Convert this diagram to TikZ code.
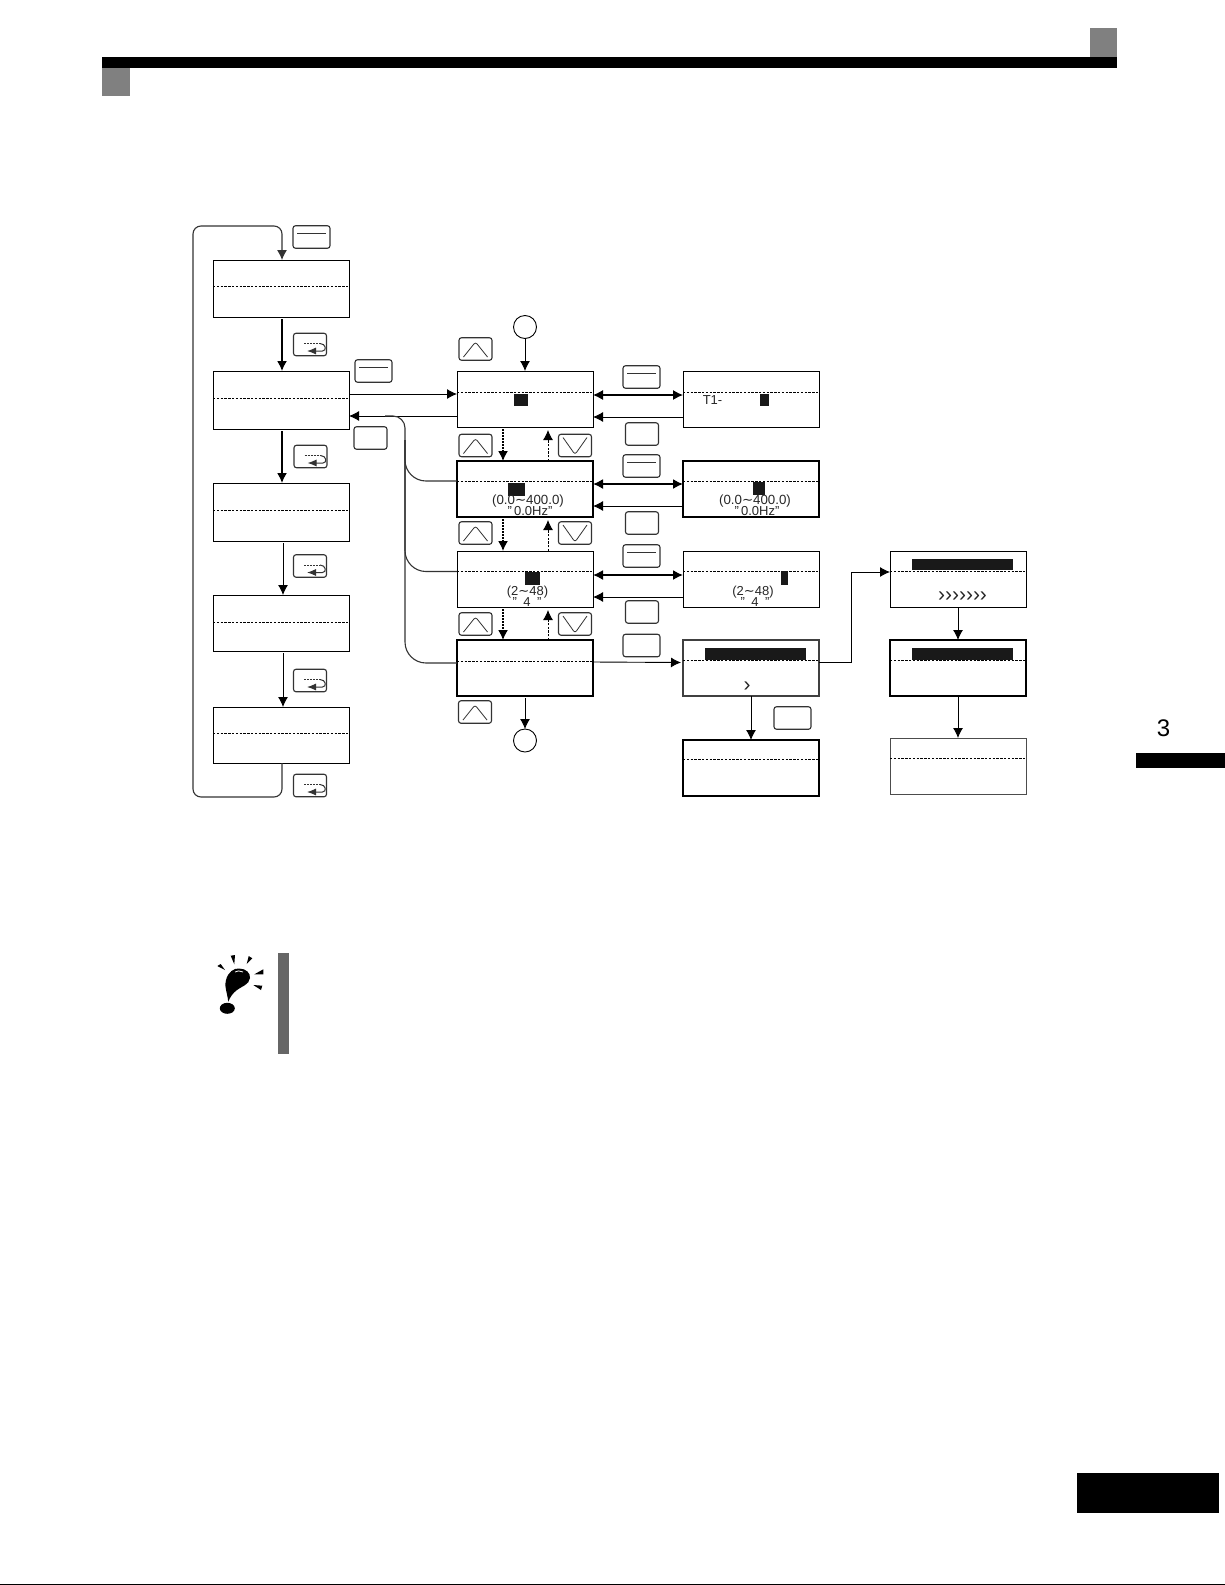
\documentclass[tikz,border=0pt]{standalone}
\usepackage{fontspec}
\setmainfont{Liberation Sans}
\newfontfamily\tildefont{DejaVu Sans}
\usetikzlibrary{arrows.meta,positioning,calc}
\tikzset{
  screen/.style={draw=black, line width=0.9pt, minimum width=136pt, minimum height=56pt, inner sep=0pt, outer sep=0pt},
  boldscreen/.style={screen, line width=1.3pt},
  dashrow/.style={line width=0.7pt, dash pattern=on 2.4pt off 1.4pt},
  key/.style={draw=black!80, line width=1.1pt, rounded corners=2.5pt, minimum width=33pt, minimum height=22.5pt, inner sep=0pt, outer sep=0pt},
  plainkey/.style={key},
  widekey/.style={key, minimum width=37pt},
  enterkey/.style={widekey, path picture={\draw[line width=0.8pt, y=1pt, shift={(path picture bounding box.center)}] (-14.5,4) -- (14.5,4);}},
  upkey/.style={key, path picture={\draw[line width=0.8pt, y=1pt, shift={(path picture bounding box.center)}] (-12,-8) -- (0,7) -- (12,-8);}},
  downkey/.style={key, path picture={\draw[line width=0.8pt, y=1pt, shift={(path picture bounding box.center)}] (-12,8) -- (0,-9) -- (12,8);}},
  returnkey/.style={key, path picture={
    \draw[line width=0.8pt, dash pattern=on 2pt off 1pt, y=1pt, shift={(path picture bounding box.center)}] (-6,1) -- (10,1);
    \draw[line width=1pt, -{Latex[length=9pt,width=7pt]}, y=1pt, shift={(path picture bounding box.center)}] (10,1) .. controls (16,1) and (17,-6.5) .. (10,-6.5) -- (-3,-6.5);}},
  arrow/.style={-{Latex[length=10pt,width=10pt]}, line width=0.9pt},
  boldarrow/.style={arrow, line width=1.5pt},
  twoway/.style={{Latex[length=10pt,width=10pt]}-{Latex[length=10pt,width=10pt]}, line width=1.2pt},
  dashedarrow/.style={arrow, dash pattern=on 2.2pt off 1.5pt},
  bolddashedarrow/.style={arrow, line width=1.5pt, dash pattern=on 1.8pt off 1.2pt},
  wire/.style={line width=0.9pt},
  buswire/.style={line width=1.1pt, black!80},
  lcdmark/.style={fill=black!90, inner sep=0pt, outer sep=0pt},
  dial/.style={draw=black, circle, line width=0.9pt, minimum size=23pt, inner sep=0pt, outer sep=0pt},
  lcd/.style={font=\fontsize{13}{13}\selectfont, inner sep=0pt, text=black!85}
}
\begin{document}
\begin{tikzpicture}[x=1pt, y=-1pt]
\useasboundingbox (0,0) rectangle (1225,1585);
% page furniture
\fill[black] (102,57) rectangle (1117,68);
\fill[black!50] (1089.5,28) rectangle (1117,57);
\fill[black!50] (102,68) rectangle (130,96);
\fill[black] (1136,753) rectangle (1225,768);
\fill[black] (1077,1473) rectangle (1219,1513);
\fill[black] (0,1584) rectangle (1225,1585);
\node[font=\fontsize{24}{24}\selectfont, inner sep=0pt] (chapter) at (1163.5,728) {3};
% left column
\node[screen, minimum height=57pt] (menuA) at (281,288.5) {};
\node[screen, minimum height=58pt, below=54pt of menuA] (menuB) {};
\node[screen, minimum height=58pt, below=54pt of menuB] (menuC) {};
\node[screen, below=54pt of menuC] (menuD) {};
\node[screen, below=56pt of menuD] (menuE) {};
% parameter column
\node[screen] (parA) at (525,399) {};
\node[screen, line width=1.1pt, below=34pt of parA] (parB) {};
\node[screen, below=34pt of parB] (parC) {};
\node[boldscreen, below=33pt of parC] (parD) {};
% edit column
\node[screen, right=90pt of parA] (editA) {};
\node[screen, line width=1.1pt, right=90pt of parB] (editB) {};
\node[screen, right=90pt of parC] (editC) {};
\node[screen, line width=1.1pt, draw=black!75, right=90pt of parD] (editD) {};
\node[screen, line width=1.1pt, below=44pt of editD] (editE) {};
% tuning column
\node[screen, right=71pt of editC] (tuneA) {};
\node[screen, line width=1.1pt, right=71pt of editD] (tuneB) {};
\node[screen, draw=black!70, line width=1pt, below=42pt of tuneB] (tuneC) {};
\foreach \n/\o in {menuA/2.5,menuB/2,menuC/2,menuD/1,menuE/2,parA/7,parB/8,parC/7.5,parD/7,editA/7,editB/8,editC/7.5,editD/7.5,editE/8.5,tuneA/8,tuneB/7.5,tuneC/8}
  \draw[dashrow] ([yshift=\o pt]\n.west) -- ([yshift=\o pt]\n.east);
% dials
\node[dial, above=32.5pt of parA] (dialIn) {};
\node[dial, below=33pt of parD] (dialOut) {};
% keys
\node[enterkey] (keyTop) at (311.5,237) {};
\node[returnkey] (retA) at (310,344.5) {};
\node[enterkey] (keyIn) at (373.5,371) {};
\node[plainkey] (keyOut) at (370.5,438) {};
\node[returnkey] (retB) at (310.5,456.5) {};
\node[returnkey] (retC) at (310,566) {};
\node[returnkey] (retD) at (310,680.5) {};
\node[returnkey] (retE) at (310,785.5) {};
\node[upkey] (upTop) at (475.5,349) {};
\node[upkey] (upA) at (475.5,445.5) {};
\node[upkey] (upB) at (475.5,533) {};
\node[upkey] (upC) at (475.5,624) {};
\node[upkey] (upD) at (475,712) {};
\node[downkey] (downA) at (575,445.5) {};
\node[downkey] (downB) at (575,533) {};
\node[downkey] (downC) at (575,624) {};
\node[enterkey] (enterA) at (641.5,377) {};
\node[enterkey] (enterB) at (641.5,466) {};
\node[enterkey] (enterC) at (641.5,556) {};
\node[plainkey] (escA) at (642,434) {};
\node[plainkey] (escB) at (642,523) {};
\node[plainkey] (escC) at (642,612) {};
\node[widekey] (runKey) at (641.5,645.5) {};
\node[widekey] (stopKey) at (792.5,718) {};
% display marks
\node[lcdmark, minimum width=14pt, minimum height=12pt] (curA) at (521,400) {};
\node[lcdmark, minimum width=17pt, minimum height=13pt] (curB) at (516.5,489.5) {};
\node[lcdmark, minimum width=15pt, minimum height=13pt] (curC) at (532.5,578.5) {};
\node[lcdmark, minimum width=9pt, minimum height=12pt] (curEditA) at (764.5,400) {};
\node[lcdmark, minimum width=12pt, minimum height=13pt] (curEditB) at (759,488.5) {};
\node[lcdmark, minimum width=7pt, minimum height=14pt] (curEditC) at (784.5,578) {};
\node[lcdmark, minimum width=101pt, minimum height=12pt] (barEdit) at (755.5,654) {};
\node[lcdmark, minimum width=101pt, minimum height=11pt] (barTuneA) at (962.5,564.5) {};
\node[lcdmark, minimum width=101pt, minimum height=12pt] (barTuneB) at (962.5,654) {};
% display texts
\node[lcd] (nameA) at (712.5,400) {T1-};
\node[lcd, font=\fontsize{13.3}{13}\selectfont] (rangeB) at (528,501) {(0.0{\tildefont ∼}400.0)};
\node[lcd] (valueB) at (530,511.5) {"\,0.0Hz"};
\node[lcd] (rangeC) at (527.5,592) {(2{\tildefont ∼}48)};
\node[lcd] (valueC) at (527,602) {"\,\,\,4\,\,\,"};
\node[lcd, font=\fontsize{13.3}{13}\selectfont] (rangeEditB) at (755,501) {(0.0{\tildefont ∼}400.0)};
\node[lcd] (valueEditB) at (757,511.5) {"\,0.0Hz"};
\node[lcd] (rangeEditC) at (753,592) {(2{\tildefont ∼}48)};
\node[lcd] (valueEditC) at (755,602) {"\,\,\,4\,\,\,"};
\node[lcd, font=\fontsize{21}{21}\selectfont] (progEdit) at (747,687) {›};
\node[lcd, font=\fontsize{21}{21}\selectfont] (progTune) at (962.5,597) {›››››››};
% left column arrows
\draw[boldarrow, shorten <=2pt] ([xshift=1pt]menuA.south) -- ([xshift=1pt]menuB.north);
\draw[boldarrow, shorten <=2pt] ([xshift=1pt]menuB.south) -- ([xshift=1pt]menuC.north);
\draw[arrow, shorten <=2pt] ([xshift=2pt]menuC.south) -- ([xshift=2pt]menuD.north);
\draw[arrow, shorten <=2pt] ([xshift=2pt]menuD.south) -- ([xshift=2pt]menuE.north);
\coordinate (loopSW) at (193,797);
\coordinate (loopNW) at (193,226);
\draw[arrow, line width=1.1pt, black!80, rounded corners=8pt] ([xshift=1pt]menuE.south) |- (loopSW) -- (loopNW) -| ([xshift=1pt]menuA.north);
% into and out of the parameters
\draw[arrow] ([yshift=6pt]menuB.east) -- ([yshift=5pt]parA.west);
\draw[arrow] ([yshift=-17pt]parA.west) -- ([yshift=-16pt]menuB.east);
\coordinate (busTurn) at (405,440);
\coordinate (busEnd) at (385,416);
\draw[buswire, rounded corners=12pt] (busTurn) |- (busEnd);
\draw[buswire, rounded corners=21pt] ([yshift=8pt]parB.west) -| (busTurn);
\draw[buswire, rounded corners=21pt] ([yshift=7.5pt]parC.west) -| (busTurn);
\draw[buswire, rounded corners=21pt] ([yshift=5pt]parD.west) -| (busTurn);
\draw[arrow] (dialIn) -- (parA);
\draw[arrow, shorten <=2pt] (parD) -- (dialOut);
\foreach \u/\l in {parA/parB,parB/parC,parC/parD} {
  \draw[bolddashedarrow, shorten <=2pt] ([xshift=-22pt]\u.south) -- ([xshift=-22pt]\l.north);
  \draw[dashedarrow, shorten >=3pt] ([xshift=23pt]\l.north) -- ([xshift=23pt]\u.south);
}
% parameter to edit
\draw[twoway] ([yshift=4pt]parA.east) -- ([yshift=4pt]editA.west);
\draw[arrow] ([yshift=-18pt]editA.west) -- ([yshift=-18pt]parA.east);
\draw[twoway, line width=1.5pt] ([yshift=5pt]parB.east) -- ([yshift=5pt]editB.west);
\draw[arrow] ([yshift=-17pt]editB.west) -- ([yshift=-17pt]parB.east);
\draw[twoway, line width=1.5pt] ([yshift=4pt]parC.east) -- ([yshift=4pt]editC.west);
\draw[arrow] ([yshift=-18pt]editC.west) -- ([yshift=-18pt]parC.east);
\draw[arrow, shorten >=2pt] ([yshift=6pt]parD.east) -- ([yshift=5.5pt]editD.west);
% tuning path
\coordinate (tuneTurn) at (851,620);
\draw[wire, -{Latex[length=10pt,width=10pt]}] ([yshift=5.5pt]editD.east) -| (tuneTurn) |- ([yshift=7pt]tuneA.west);
\draw[arrow] (editD) -- (editE);
\draw[arrow] (tuneA) -- (tuneB);
\draw[arrow] (tuneB) -- (tuneC);
% attention sign
\fill[black!60] (278,953) rectangle (289,1054);
\fill (228.3,1001.7) .. controls (227,992) and (224,985) .. (226,980) .. controls (228,972) and (234,968) .. (239,968.5) .. controls (246,968.5) and (250.5,973) .. (250,978) .. controls (249,985) and (242,986) .. (237,990) .. controls (233,993) and (230,997) .. (228.3,1001.7) -- cycle;
\draw[white, line width=0.8pt] (235,972) .. controls (237,970.5) and (240,970.5) .. (243,972);
\fill (227.3,1008.3) ellipse [x radius=7.5, y radius=5.5];
\fill (217.3,966) -- (225,970) -- (220.7,964) -- cycle;
\fill (230.7,955.7) -- (235,955) -- (234.3,964.3) -- cycle;
\fill (246.7,964) -- (248.7,956) -- (252.3,958.3) -- cycle;
\fill (254.3,974.3) -- (263.3,969.3) -- (263.3,974.3) -- cycle;
\fill (253.3,985) -- (262.3,985.7) -- (261,990) -- cycle;
\end{tikzpicture}
\end{document}
